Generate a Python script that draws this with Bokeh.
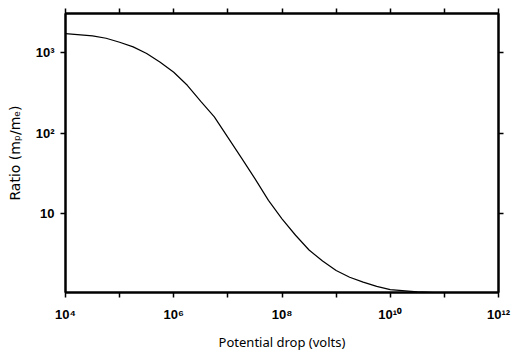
from bokeh.plotting import figure
from bokeh.models import FixedTicker, LogAxis, Range1d
from bokeh.embed import file_html
from bokeh.resources import INLINE

# Data
volts = [1e4, 3.16e4, 5.62e4, 1e5, 1.78e5, 3.16e5, 5.62e5, 1e6, 1.78e6, 3.16e6,
         5.62e6, 1e7, 1.78e7, 3.16e7, 5.62e7, 1e8, 1.78e8, 3.16e8, 5.62e8, 1e9,
         1.78e9, 3.16e9, 5.62e9, 1e10, 3.16e10, 1e11]
ratio = [1740, 1630, 1525, 1358, 1190, 986, 766, 575, 396, 250,
         160, 89, 49.3, 27.2, 14.6, 8.6, 5.37, 3.52, 2.56, 1.95,
         1.61, 1.40, 1.24, 1.13, 1.06, 1.02]

x_ticks = [1e4, 1e5, 1e6, 1e7, 1e8, 1e9, 1e10, 1e11, 1e12]
x_labels = ["10\u2074", " ", "10\u2076", " ", "10\u2078", " ", "10\u00b9\u2070", " ", "10\u00b9\u00b2"]
y_ticks = [10, 100, 1000]
y_labels = ["10", "10\u00b2", "10\u00b3"]

p = figure(width=514, height=353, x_axis_type="log", y_axis_type="log",
           x_range=Range1d(1e4, 1e12), y_range=Range1d(1.04, 3100),
           output_backend="svg", toolbar_location=None,
           min_border_left=65, min_border_right=16, min_border_top=12, min_border_bottom=58)

p.line(volts, ratio, line_color="black", line_width=1.2)

p.grid.visible = False
p.outline_line_color = "black"
p.outline_line_width = 2

tick_font = "Liberation Sans"

xa = p.xaxis[0]
xa.ticker = FixedTicker(ticks=x_ticks, minor_ticks=[])
xa.major_label_overrides = {t: l for t, l in zip(x_ticks, x_labels)}
xa.axis_label = "Potential drop (volts)"

ya = p.yaxis[0]
ya.ticker = FixedTicker(ticks=y_ticks, minor_ticks=[])
ya.major_label_overrides = {t: l for t, l in zip(y_ticks, y_labels)}
ya.axis_label = "Ratio (m\u209a/m\u2091)"

top = LogAxis(ticker=FixedTicker(ticks=x_ticks, minor_ticks=[]))
top.major_label_overrides = {t: " " for t in x_ticks}
right = LogAxis(ticker=FixedTicker(ticks=y_ticks, minor_ticks=[]))
right.major_label_overrides = {t: " " for t in y_ticks}
for ax in [top, right]:
    ax.major_label_text_color = "white"
    ax.major_label_text_font_size = "4px"
    ax.major_label_standoff = 0
p.add_layout(top, "above")
p.add_layout(right, "right")

for ax in [xa, ya, top, right]:
    ax.axis_line_width = 2
    ax.axis_line_color = "black"
    ax.major_tick_line_color = "black"
    ax.major_tick_line_width = 1.5
    ax.major_tick_out = 5
    ax.major_tick_in = 0
    ax.minor_tick_line_color = None

for ax in [xa, ya]:
    ax.major_label_text_font = tick_font
    ax.major_label_text_font_style = "bold"
    ax.major_label_text_font_size = "13px"
    ax.major_label_text_color = "black"
    ax.axis_label_text_font_style = "normal"
    ax.axis_label_text_color = "black"

xa.axis_label_text_font = "Noto Sans"
xa.axis_label_text_font_size = "13px"
ya.axis_label_text_font = "DejaVu Sans"
ya.axis_label_text_font_size = "14px"

xa.major_label_standoff = 9
xa.axis_label_standoff = 8
ya.major_label_standoff = 6
ya.axis_label_standoff = 10

open("out.html", "w").write(file_html(p, INLINE))
